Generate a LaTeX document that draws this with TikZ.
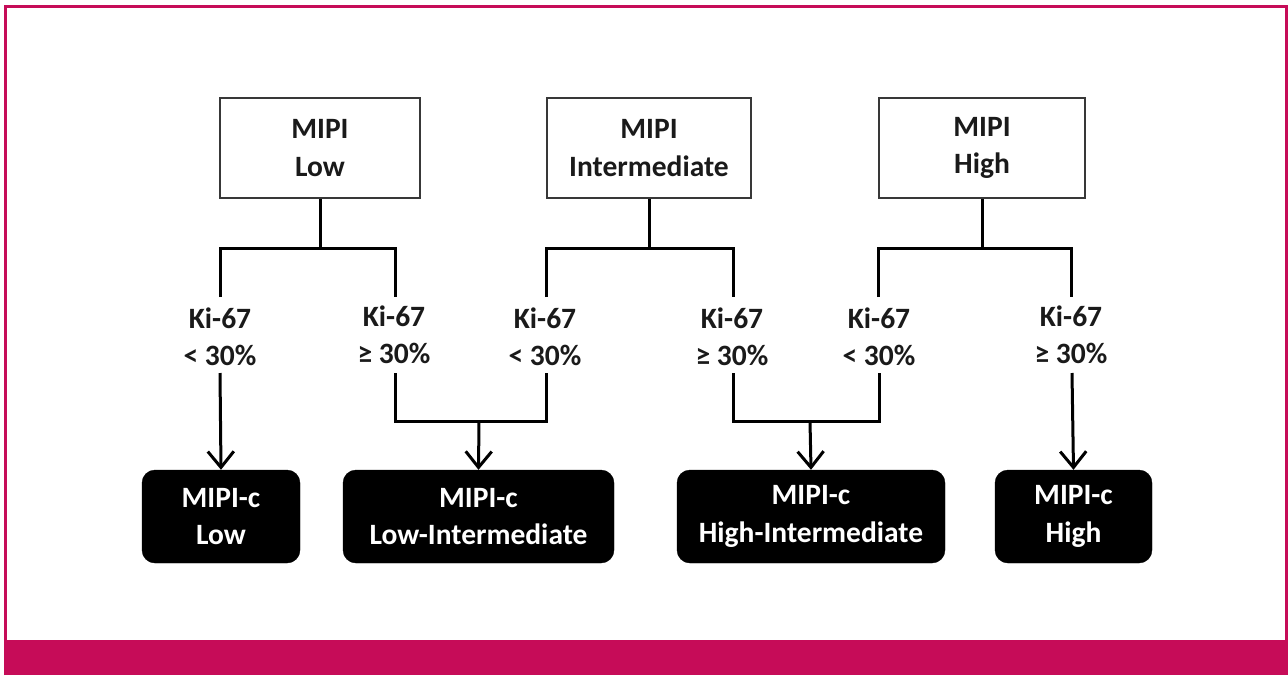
\documentclass[tikz,border=0pt]{standalone}
\usepackage{fontspec}
\setmainfont{Carlito}
\usetikzlibrary{arrows.meta}
\definecolor{brand}{HTML}{C60C58}
\definecolor{ink}{HTML}{1A1A1A}
\begin{document}
\begin{tikzpicture}[x=1pt,y=-1pt,
  txt/.style={font=\bfseries\fontsize{29.5}{37.5}\selectfont, align=center, inner sep=0pt},
  topbox/.style={txt, draw=black!78, line width=2pt, text=ink, minimum height=100pt},
  resbox/.style={txt, fill=black, draw=black, rounded corners=13pt, text=white, minimum height=93pt},
  lbl/.style={txt, text=ink},
  conn/.style={draw=black, line width=3pt, line join=miter},
  arr/.style={conn, -{Straight Barb[length=16pt,width=26pt,line width=3pt]}}
]
\useasboundingbox (0,0) rectangle (1288,675);
% frame
\draw[brand, line width=3pt] (5,675) -- (5,6.5) -- (1286,6.5) -- (1286,675);
\fill[brand] (4,640) rectangle (1288,675);

% top boxes
\node[topbox, minimum width=200pt] (tlow) at (320,148) {MIPI\\Low};
\node[topbox, minimum width=204pt] (tint) at (649,148) {MIPI\\Intermediate};
\node[topbox, minimum width=206pt] (thigh) at (982,148) {MIPI\\High};

% result boxes
\node[resbox, minimum width=158pt] (rlow) at (221,516.5) {MIPI-c\\Low};
\node[resbox, minimum width=271pt] (rlint) at (478.5,516.5) {MIPI-c\\Low-Intermediate};
\node[resbox, minimum width=268pt] (rhint) at (811,516.5) {MIPI-c\\High-Intermediate};
\node[resbox, minimum width=157pt] (rhigh) at (1073.5,516.5) {MIPI-c\\High};

% labels
\node[lbl] (k1) at (220,337) {Ki-67\\< 30\%};
\node[lbl] (k2) at (394,335) {Ki-67\\≥ 30\%};
\node[lbl] (k3) at (545,337) {Ki-67\\< 30\%};
\node[lbl] (k4) at (732,337) {Ki-67\\≥ 30\%};
\node[lbl] (k5) at (879,337) {Ki-67\\< 30\%};
\node[lbl] (k6) at (1071,335) {Ki-67\\≥ 30\%};

% junction coordinates
\coordinate (jlow) at (320,248);
\coordinate (jint) at (649,248);
\coordinate (jhigh) at (982,248);
\coordinate (u1) at (220,297);
\coordinate (u2) at (395,297);
\coordinate (u3) at (546,297);
\coordinate (u4) at (733,297);
\coordinate (u5) at (878,297);
\coordinate (u6) at (1071,297);
\coordinate (d1) at (220,373);
\coordinate (d2) at (395,373);
\coordinate (d3) at (546,373);
\coordinate (d4) at (733,373);
\coordinate (d5) at (879,373);
\coordinate (d6) at (1072,373);
\coordinate (m1) at (479,421);
\coordinate (m2) at (810,421);

% upper connectors
\draw[conn] (tlow.south) -- (jlow);
\draw[conn] (u1) |- (jlow) -| (u2);
\draw[conn] (tint.south) -- (jint);
\draw[conn] (u3) |- (jint) -| (u4);
\draw[conn] (thigh.south) -- (jhigh);
\draw[conn] (u5) |- (jhigh) -| (u6);

% lower connectors
\draw[arr] (d1) -- (rlow.north);
\draw[conn] (d2) |- (m1) -| (d3);
\draw[arr] (m1) -- (rlint.north);
\draw[conn] (d4) |- (m2) -| (d5);
\draw[arr] (m2) -- (rhint.north);
\draw[arr] (d6) -- (rhigh.north);
\end{tikzpicture}
\end{document}
